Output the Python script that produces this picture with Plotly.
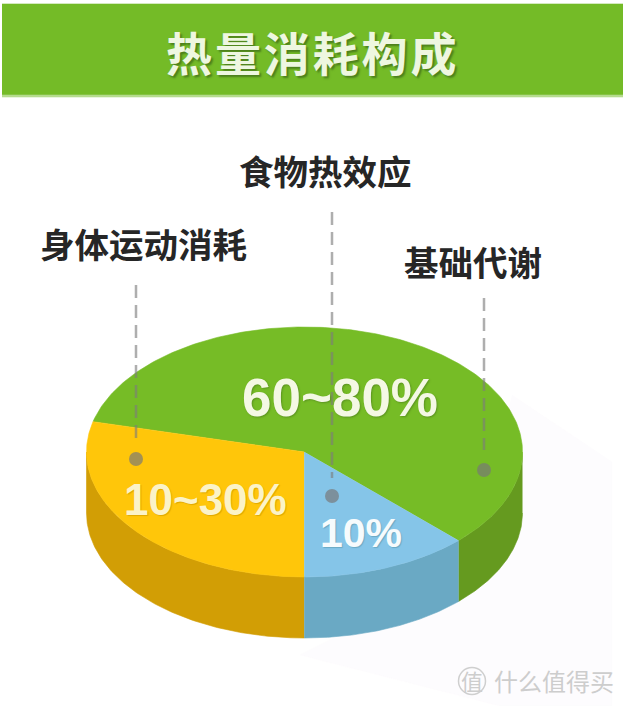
import numpy as np
import plotly.graph_objects as go

# ---- data ----
categories = ["基础代谢", "身体运动消耗", "食物热效应"]
shares = [58.6, 28.9, 12.5]            # drawn share of the disc
value_labels = ["60~80%", "10~30%", "10%"]
title_text = "热\u200a量\u200a消\u200a耗\u200a构\u200a成"
watermark = "什么值得买"

# ---- styles ----
top_colors = ["#76bc26", "#ffc60a", "#85c5e8"]
wall_colors = ["#659a1f", "#d29e05", "#6aa9c4"]
W, H = 623, 706
CX, CY, RX, RY, DEPTH = 304.5, 452, 218, 125, 61
START = 45.0   # screen angle where the first slice starts (clockwise from +x, y down)


def arc(t0, t1, dy=0, n=120):
    t = np.radians(np.linspace(t0, t1, n))
    return CX + RX * np.cos(t), CY + dy + RY * np.sin(t)


fig = go.Figure()


def poly(x, y, color, line=None):
    fig.add_trace(go.Scatter(x=list(x), y=list(y), mode="lines", fill="toself", fillcolor=color,
                             line=dict(width=0.6, color=line or color), hoverinfo="skip", showlegend=False))


# faint background shadow
poly([512, 612, 612, 500, 300, 330, 470], [395, 462, 706, 706, 655, 640, 560], "#fdfcfe", "#fdfcfe")

# header band
poly([2, 623, 623, 2], [4, 4, 95, 95], "#74bb27")
poly([2, 623, 623, 2], [95, 95, 97, 97], "#b5dc8f")

# slices: angles decrease from START on screen (counter-clockwise)
angles = []
a = START
for s in shares:
    b = a - s / 100 * 360
    angles.append((a, b))
    a = b

# side walls (only the part on the front of the disc, screen angles 0..180)
for (a0, a1), c in zip(angles, wall_colors):
    for k in (0, 360):
        lo, hi = min(a0, a1) + k, max(a0, a1) + k
        lo, hi = max(lo, 0), min(hi, 180)
        if hi > lo:
            x1, y1 = arc(lo, hi)
            x2, y2 = arc(hi, lo, DEPTH)
            poly(np.r_[x1, x2], np.r_[y1, y2], c)

# top faces
for (a0, a1), c in zip(angles, top_colors):
    x, y = arc(a0, a1, n=240)
    poly(np.r_[CX, x], np.r_[CY, y], c)

# dashed leaders and dots
leader_x = [136, 332, 484]
leader_top = [285, 212, 298]
leader_end = [440, 478, 450]
dot_y = [459, 496, 470]
for x, t, e, d in zip(leader_x, leader_top, leader_end, dot_y):
    fig.add_trace(go.Scatter(x=[x, x], y=[t, e], mode="lines", hoverinfo="skip", showlegend=False,
                             line=dict(color="rgba(125,125,125,0.62)", width=2.5, dash="13px,7px")))
    fig.add_trace(go.Scatter(x=[x], y=[d], mode="markers", hoverinfo="skip", showlegend=False,
                             marker=dict(size=14, color="rgba(120,120,120,0.68)", line=dict(width=0))))

# watermark logo ring
fig.add_trace(go.Scatter(x=[472], y=[681], mode="markers", hoverinfo="skip", showlegend=False,
                         marker=dict(size=27, color="rgba(0,0,0,0)", line=dict(width=1.5, color="#cfcfcf"))))

CJK = "Noto Sans CJK SC"
NUM = "Liberation Sans"


def note(x, y, text, size, color, family=CJK, shadow=None, weight="bold"):
    fig.add_annotation(x=x, y=y, text=text, showarrow=False, xref="x", yref="y", xanchor="center", yanchor="middle",
                       font=dict(family=family, size=size, color=color, weight=weight, shadow=shadow or "none"))


note(311, 51, title_text, 46, "#eef7e0", shadow="2px 2px 2px #4c7f1c")
note(325.5, 170, categories[2], 34.5, "#262626")
note(143.5, 243, categories[1], 34.5, "#262626")
note(473, 261, categories[0], 34.5, "#262626")
note(340, 397, value_labels[0], 53, "#f4f8e4", NUM, shadow="1px 1px 2px #5b9320")
note(205, 499, value_labels[1], 44, "#fbf3c8", NUM, shadow="1px 1px 1px #e0a800")
note(361, 533, value_labels[2], 41, "#f6fbfd", NUM, shadow="1px 1px 1px #6aa9c4")
note(554, 680, watermark, 24, "#cdcdcd", weight=400)
note(472, 680, "值", 22, "#cdcdcd", weight=400)

fig.update_layout(
    width=W, height=H, margin=dict(l=0, r=0, t=0, b=0),
    paper_bgcolor="white", plot_bgcolor="white", showlegend=False,
    xaxis=dict(range=[0, W], visible=False, fixedrange=True),
    yaxis=dict(range=[H, 0], visible=False, fixedrange=True),
)
fig.write_html("out.html", config={"displayModeBar": False},
               post_script="document.body.style.margin='0';document.body.style.overflow='hidden';")
